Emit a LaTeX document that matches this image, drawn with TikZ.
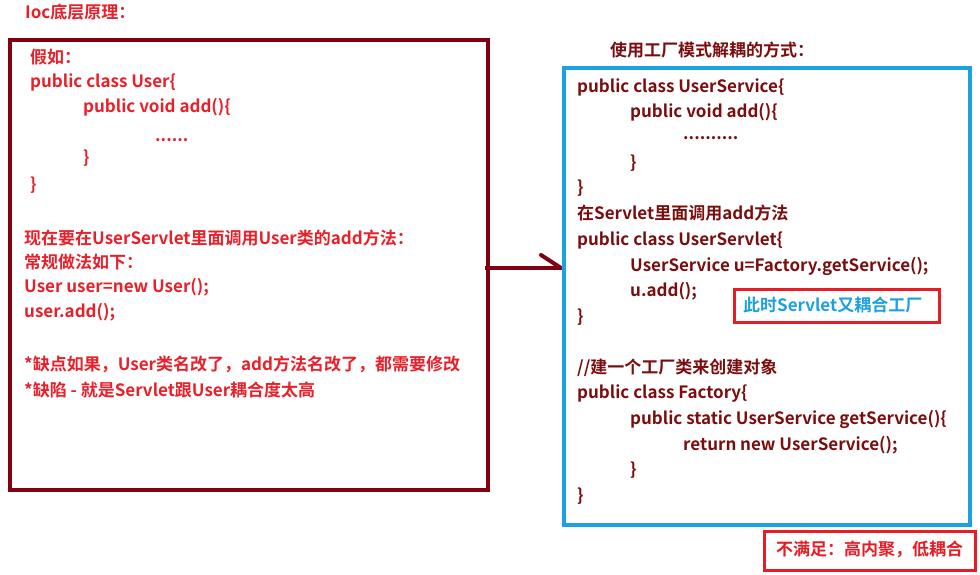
\documentclass[tikz,border=0pt]{standalone}
\usepackage{fontspec}
\setmainfont{Noto Sans CJK SC}[BoldFont={* Bold}]
\definecolor{boxred}{HTML}{800012}
\definecolor{txtred}{HTML}{E8202A}
\definecolor{txtdark}{HTML}{7A0E0E}
\definecolor{boxblue}{HTML}{1BA1E2}
\definecolor{hotred}{HTML}{E81C24}
\tikzset{
  code/.style={anchor=west, inner sep=0pt, font=\fontsize{17}{19}\selectfont\bfseries},
  lcode/.style={code, text=txtred},
  rcode/.style={code, text=txtdark},
  frame/.style={line width=4pt},
}
\begin{document}
\begin{tikzpicture}[x=1pt,y=-1pt]
\useasboundingbox[fill=white] (0,0) rectangle (980,575);
% title
\node[lcode] (title) at (25,12) {Ioc底层原理：};
% left box
\draw[frame, boxred] (10,40) rectangle (488,490);
\node[lcode] (l1) at (30,57) {假如：};
\node[lcode] (l2) at (30,82) {public class User\{};
\node[lcode] (l3) at (83,107) {public void add()\{};
\node[lcode] (l4) at (155,140) {......};
\node[lcode] (l5) at (83,158) {\}};
\node[lcode] (l6) at (30,185) {\}};
\node[lcode] (l7) at (24,238) {现在要在UserServlet里面调用User类的add方法：};
\node[lcode] (l8) at (24,262) {常规做法如下：};
\node[lcode] (l9) at (24,287) {User user=new User();};
\node[lcode] (l10) at (24,312) {user.add();};
\node[lcode] (l11) at (24,364) {*缺点如果，User类名改了，add方法名改了，都需要修改};
\node[lcode] (l12) at (24,390) {*缺陷 - 就是Servlet跟User耦合度太高};
% arrow
\coordinate (a0) at (485,268);
\coordinate (a1) at (561,268);
\coordinate (ab) at (541,255);
\draw[line width=4pt, boxred] (a0) -- (a1);
\draw[line width=4pt, boxred, line cap=round] (ab) -- (a1);
% right side
\node[rcode] (rtitle) at (610,50) {使用工厂模式解耦的方式：};
\draw[frame, boxblue] (564,68) rectangle (970,525);
\node[rcode] (r1) at (577,87) {public class UserService\{};
\node[rcode] (r2) at (630,112) {public void add()\{};
\node[rcode] (r3) at (683,138) {..........};
\node[rcode] (r4) at (630,163) {\}};
\node[rcode] (r5) at (577,188) {\}};
\node[rcode] (r6) at (577,213) {在Servlet里面调用add方法};
\node[rcode] (r7) at (577,240) {public class UserServlet\{};
\node[rcode] (r8) at (630,266) {UserService u=Factory.getService();};
\node[rcode] (r9) at (630,291) {u.add();};
\node[rcode] (r10) at (577,317) {\}};
\node[rcode] (r11) at (577,368) {//建一个工厂类来创建对象};
\node[rcode] (r12) at (577,394) {public class Factory\{};
\node[rcode] (r13) at (630,419) {public static UserService getService()\{};
\node[rcode] (r14) at (683,445) {return new UserService();};
\node[rcode] (r15) at (630,470) {\}};
\node[rcode] (r16) at (577,496) {\}};
% notes
\draw[line width=3pt, hotred] (734,289) rectangle (939,322);
\node[code, text=boxblue] (note1) at (743,305) {此时Servlet又耦合工厂};
\draw[line width=3pt, hotred] (764,531) rectangle (975,570);
\node[code, text=hotred] (note2) at (776,549) {不满足：高内聚，低耦合};
\end{tikzpicture}
\end{document}
